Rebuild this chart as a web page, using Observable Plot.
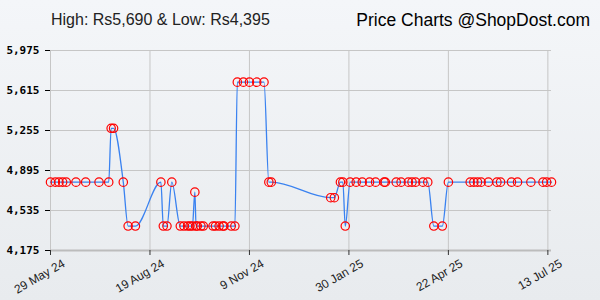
<!DOCTYPE html>
<html><head><meta charset="utf-8">
<script src="https://cdn.jsdelivr.net/npm/d3@7"></script>
<script src="https://cdn.jsdelivr.net/npm/@observablehq/plot@0.6"></script>
<style>
body{margin:0;}
#wrap{position:relative;width:600px;height:300px;background:linear-gradient(#f4f6f9,#e8ebee);overflow:hidden;font-family:"Liberation Sans",Arial,sans-serif;}
#wrap svg{position:absolute;left:0;top:0;}
#t1{position:absolute;left:51px;top:11px;font-size:16px;color:#222;z-index:2;white-space:nowrap;}
#t2{position:absolute;right:10px;top:10px;font-size:17.5px;color:#000;z-index:2;white-space:nowrap;}
</style></head><body>
<div id="wrap"><div id="t1">High: Rs5,690 &amp; Low: Rs4,395</div><div id="t2">Price Charts @ShopDost.com</div></div>
<script>
const dates = [
  "2024-05-29","2024-06-02","2024-06-05","2024-06-08","2024-06-11","2024-06-19","2024-06-27","2024-07-08","2024-07-16",
  "2024-07-18","2024-07-20","2024-07-28","2024-08-01","2024-08-07","2024-08-28","2024-08-30","2024-09-02","2024-09-06",
  "2024-09-13","2024-09-16","2024-09-19","2024-09-21","2024-09-23","2024-09-25","2024-09-26","2024-09-27","2024-09-30",
  "2024-10-02","2024-10-10","2024-10-12","2024-10-15","2024-10-18","2024-10-19","2024-10-25","2024-10-28",
  "2024-10-30","2024-11-04","2024-11-09","2024-11-15","2024-11-21","2024-11-25","2024-11-27",
  "2025-01-15","2025-01-18","2025-01-23","2025-01-25","2025-01-27","2025-01-31","2025-02-05","2025-02-10","2025-02-16",
  "2025-02-21","2025-02-28","2025-03-01","2025-03-10","2025-03-14","2025-03-20","2025-03-23","2025-03-26","2025-04-01",
  "2025-04-05","2025-04-10","2025-04-17","2025-04-22","2025-05-10","2025-05-13","2025-05-16","2025-05-19","2025-05-25",
  "2025-06-01","2025-06-04","2025-06-13","2025-06-18","2025-06-29","2025-07-09","2025-07-12","2025-07-16"
];
const prices = [
  4790,4790,4790,4790,4790,4790,4790,4790,4790,
  5275,5275,4790,4395,4395,4790,4395,4395,4790,
  4395,4395,4395,4395,4395,4700,4395,4395,4395,
  4395,4395,4395,4395,4395,4395,4395,4395,
  5690,5690,5690,5690,5690,4790,4790,
  4650,4650,4790,4790,4395,4790,4790,4790,4790,
  4790,4790,4790,4790,4790,4790,4790,4790,4790,
  4790,4395,4395,4790,4790,4790,4790,4790,4790,
  4790,4790,4790,4790,4790,4790,4790,4790
];
const yTicks = [4175,4535,4895,5255,5615,5975];
const xTicks = ["2024-05-29","2024-08-19","2024-11-09","2025-01-30","2025-04-22","2025-07-13"];
const xTickLabels = ["29 May 24","19 Aug 24","9 Nov 24","30 Jan 25","22 Apr 25","13 Jul 25"];
const xDomain = ["2024-05-29","2025-07-16"];

const data = dates.map((d,i)=>({date:new Date(d), price:prices[i]}));
const xTickDates = xTicks.map(d=>new Date(d));

const plot = Plot.plot({
  width:600, height:300,
  marginTop:50, marginBottom:50, marginLeft:50, marginRight:49,
  style:{background:"transparent", fontFamily:"Liberation Sans, Arial, sans-serif", overflow:"visible"},
  x:{type:"utc", domain:xDomain.map(d=>new Date(d)), axis:null},
  y:{domain:[yTicks[0], yTicks[yTicks.length-1]], axis:null},
  marks:[
    Plot.gridY(yTicks, {stroke:"#c6c6c6", strokeOpacity:1}),
    Plot.gridX(xTickDates, {stroke:"#c6c6c6", strokeOpacity:1}),
    Plot.ruleY([yTicks[0]], {stroke:"#bcbcbc", strokeWidth:2}),
    Plot.ruleX(xTickDates, {y1:yTicks[0], y2:yTicks[0], insetBottom:-5, stroke:"#333"}),
    Plot.axisY(yTicks, {tickSize:5, tickPadding:6, tickFormat:d3.format(","), fontFamily:"DejaVu Sans Mono", fontWeight:"bold", fontSize:11, fill:"#000", stroke:"#000", label:null}),
    Plot.text(xTickDates, {x:d=>d, text:(d,i)=>xTickLabels[i], frameAnchor:"bottom", rotate:-30, textAnchor:"end", lineAnchor:"top", dx:11, dy:8, fontSize:12, fill:"#222"}),
    Plot.line(data, {x:"date", y:"price", stroke:"#3a82f0", strokeWidth:1.3, curve:"monotone-x"}),
    Plot.dot(data, {x:"date", y:"price", r:4.2, stroke:"#ff0000", fill:"none", strokeWidth:1.2})
  ]
});
document.getElementById("wrap").appendChild(plot);
</script>
</body></html>
